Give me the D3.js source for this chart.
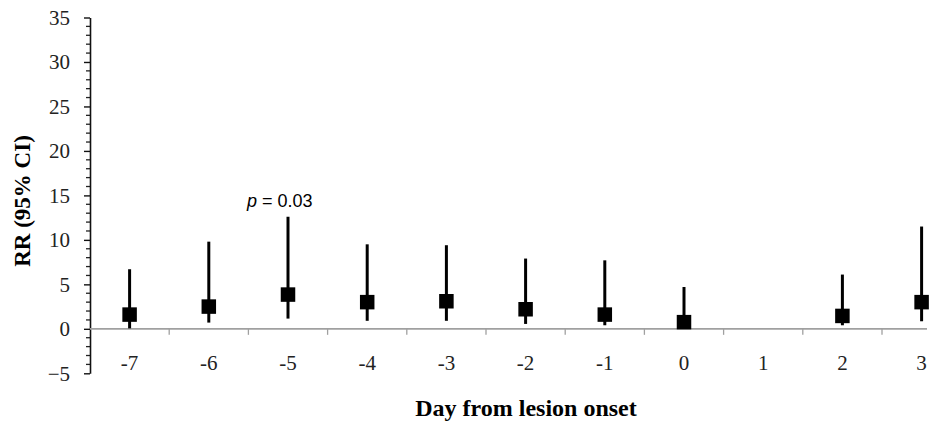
<!DOCTYPE html>
<html>
<head>
<meta charset="utf-8">
<script src="https://cdn.jsdelivr.net/npm/d3@7/dist/d3.min.js"></script>
<style>
  html, body { margin: 0; padding: 0; background: #fff; }
  svg { display: block; }
</style>
</head>
<body>
<svg id="chart" width="933" height="428"></svg>
<script>
// ---- data ----
const days = ["-7", "-6", "-5", "-4", "-3", "-2", "-1", "0", "1", "2", "3"];
const rr    = [1.6, 2.5, 3.85, 3.0, 3.1, 2.2, 1.6, 0.75, null, 1.45, 3.0];
const lower = [0.05, 0.7, 1.15, 0.9, 0.9, 0.55, 0.4, 0.1, null, 0.4, 0.85];
const upper = [6.7, 9.8, 12.6, 9.5, 9.4, 7.9, 7.7, 4.7, null, 6.1, 11.5];
const yTicks = [-5, 0, 5, 10, 15, 20, 25, 30, 35];
const annotation = { day: "-5", value: 12.6, label: "= 0.03" };

(function () {
const svg = d3.select("#chart");
const mLeft = 90, mTop = 17.5, mBottom = 373.3;
const bandW = 79.2;

const x = d3.scaleBand().domain(days).range([mLeft, mLeft + bandW * days.length]).padding(0);
const y = d3.scaleLinear().domain([-5, 35]).range([mBottom, mTop]);

// minor ticks on y axis
const minor = d3.range(-5, 36, 1).filter(v => v % 5 !== 0);
svg.append("g").selectAll("line").data(minor).join("line")
  .attr("x1", mLeft - 4).attr("x2", mLeft)
  .attr("y1", d => y(d)).attr("y2", d => y(d))
  .attr("stroke", "#222").attr("stroke-width", 1.3);

// y axis
const yAxis = svg.append("g").attr("transform", `translate(${mLeft},0)`)
  .call(d3.axisLeft(y).tickValues(yTicks).tickSize(6).tickSizeOuter(0).tickPadding(14));
yAxis.select(".domain").attr("stroke", "#111").attr("stroke-width", 1.6);
yAxis.selectAll(".tick line").attr("stroke", "#111").attr("stroke-width", 1.4);
yAxis.selectAll("text").attr("font-family", "Liberation Serif, Times New Roman, serif")
  .attr("font-size", 21).attr("fill", "#222");

// x axis at y=0
const xg = svg.append("g").attr("transform", `translate(0,${y(0)})`);
xg.append("line").attr("x1", mLeft).attr("x2", 927).attr("y1", 0).attr("y2", 0)
  .attr("stroke", "#a0a0a0").attr("stroke-width", 1.6);
const bounds = days.map(d => x(d) + x.bandwidth()).filter(v => v < 927);
xg.selectAll("line.tk").data(bounds).join("line").attr("class", "tk")
  .attr("x1", d => d).attr("x2", d => d).attr("y1", 0).attr("y2", 6)
  .attr("stroke", "#a0a0a0").attr("stroke-width", 1.3);
xg.selectAll("text").data(days).join("text")
  .attr("x", d => x(d) + x.bandwidth() / 2).attr("y", 41)
  .attr("text-anchor", "middle")
  .attr("font-family", "Liberation Serif, Times New Roman, serif")
  .attr("font-size", 21).attr("fill", "#222")
  .text(d => d);

// error bars and points
const pts = days.map((d, i) => ({ d, v: rr[i], lo: lower[i], hi: upper[i] })).filter(p => p.v !== null);
const cx = d => x(d) + x.bandwidth() / 2;
svg.append("g").selectAll("line").data(pts).join("line")
  .attr("x1", p => cx(p.d)).attr("x2", p => cx(p.d))
  .attr("y1", p => y(p.lo)).attr("y2", p => y(p.hi))
  .attr("stroke", "#000").attr("stroke-width", 3);
const s = 14.5;
svg.append("g").selectAll("rect").data(pts).join("rect")
  .attr("x", p => cx(p.d) - s / 2).attr("y", p => y(p.v) - s / 2)
  .attr("width", s).attr("height", s).attr("fill", "#000");

// annotation
const at = svg.append("text")
  .attr("x", cx(annotation.day) - 41).attr("y", y(annotation.value) - 10)
  .attr("font-family", "Liberation Sans, Arial, sans-serif")
  .attr("font-size", 18).attr("fill", "#000");
at.append("tspan").attr("font-style", "italic").text("p");
at.append("tspan").text(" " + annotation.label);

// axis titles
svg.append("text")
  .attr("transform", `translate(30,201) rotate(-90)`)
  .attr("text-anchor", "middle")
  .attr("font-family", "Liberation Serif, Times New Roman, serif")
  .attr("font-weight", "bold").attr("font-size", 23).attr("fill", "#000")
  .text("RR (95% CI)");
svg.append("text")
  .attr("x", 526).attr("y", 416)
  .attr("text-anchor", "middle")
  .attr("font-family", "Liberation Serif, Times New Roman, serif")
  .attr("font-weight", "bold").attr("font-size", 24).attr("fill", "#000")
  .text("Day from lesion onset");
})();
</script>
</body>
</html>
